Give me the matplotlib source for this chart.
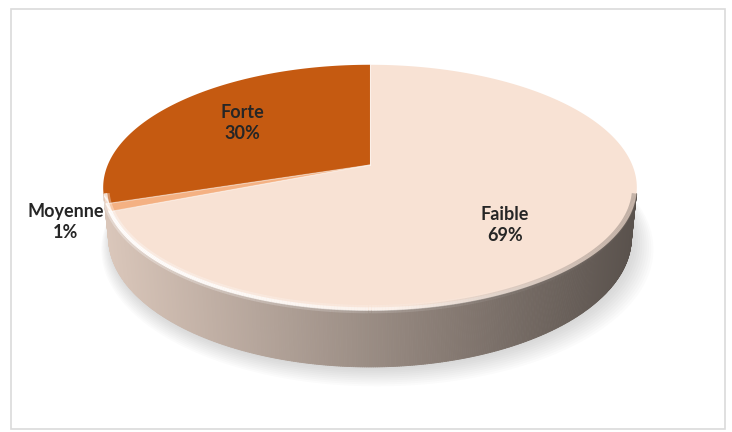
import numpy as np
import matplotlib.pyplot as plt
from matplotlib.patches import Polygon, Rectangle
from matplotlib.collections import PolyCollection, LineCollection
from matplotlib.colors import to_rgb

# data
labels = ['Faible', 'Moyenne', 'Forte']
values = [69, 1, 30]
colors = ['#F8E2D4', '#F4B183', '#C55A11']
label_pos = [(505, 225), (66, 222), (242, 123)]

# 3d view of the pie (pixel units)
CX, VY = 370, 165
ELEV = np.radians(26.9)
DIST = 4.85
FOC = 1272
THICK = 0.2146


def project(theta, r=1.0, y=0.0):
    # theta in degrees, clockwise from 12 o'clock
    t = np.radians(theta)
    u = r * np.sin(t)
    v = -r * np.cos(t)
    s, c = np.sin(ELEV), np.cos(ELEV)
    depth = DIST - (y * s + v * c)
    sx = CX + FOC * u / depth
    sy = VY - FOC * (y * c - v * s) / depth
    return sx, sy


fig = plt.figure(figsize=(7.32, 4.32), dpi=100)
ax = fig.add_axes([0, 0, 1, 1])
ax.set_xlim(0, 732)
ax.set_ylim(432, 0)
ax.axis('off')

ax.add_patch(Rectangle((11, 9), 714, 420, facecolor='white', edgecolor='#DADADA', lw=1.2))

bounds = np.concatenate([[0], np.cumsum(values) / np.sum(values) * 360])

# rim extents for shading
all_t = np.linspace(0, 360, 1441)
rim_x = project(all_t)[0]
xmin, xmax = rim_x.min(), rim_x.max()

# visible part of the side wall
tmin = np.degrees(np.arccos(-1 / (DIST * np.cos(ELEV))))
tmax = 360 - tmin

# soft shadow under the pie
tt = np.linspace(tmin - 20, tmax + 20, 200)
for k in range(10):
    bx, by = project(tt, r=1.0 + 0.006 * k, y=-THICK)
    top_x, top_y = project(tt[::-1], r=0.9)
    pts = np.column_stack([np.concatenate([bx + 2 + k * 0.6, top_x]),
                           np.concatenate([by + 2 + k * 0.8, top_y])])
    ax.add_patch(Polygon(pts, closed=True, facecolor='#808080', edgecolor='none', alpha=0.03))

# side wall strips (only the big slice shows its wall)
polys, fcols = [], []
a0, a1 = tmin, tmax
n = int((a1 - a0) / 0.4) + 1
ts = np.linspace(a0, a1, n)
tx, ty = project(ts)
bx, by = project(ts, y=-THICK)
base = np.array(to_rgb(colors[0]))
for j in range(n - 1):
    polys.append([(tx[j], ty[j]), (tx[j + 1], ty[j + 1]), (bx[j + 1], by[j + 1]), (bx[j], by[j])])
    f = ((tx[j] + tx[j + 1]) / 2 - xmin) / (xmax - xmin)
    shade = 0.88 - 0.52 * f
    fcols.append(np.clip(base * shade, 0, 1))
ax.add_collection(PolyCollection(polys, facecolors=fcols, edgecolors=fcols, linewidths=0.6))

# top face
for i in range(len(values)):
    ts = np.linspace(bounds[i], bounds[i + 1], max(3, int(bounds[i + 1] - bounds[i]) * 2))
    rx, ry = project(ts)
    pts = np.column_stack([np.concatenate([[CX], rx]), np.concatenate([[VY], ry])])
    ax.add_patch(Polygon(pts, closed=True, facecolor=colors[i], edgecolor='none'))

# slice separators
for b in bounds[:-1]:
    ex, ey = project(b)
    ax.plot([CX, ex], [VY, ey], color='white', lw=0.8, alpha=0.5)

# bevel highlight / shade along the front rim
ts = np.linspace(tmin, tmax, 300)
hx, hy = project(ts, r=0.993)
segs = [[(hx[j], hy[j]), (hx[j + 1], hy[j + 1])] for j in range(len(ts) - 1)]
fr = ((hx[:-1] + hx[1:]) / 2 - xmin) / (xmax - xmin)
hl = [(1, 1, 1, 0.95 * max(0, 1 - f) ** 0.9) for f in fr]
ax.add_collection(LineCollection(segs, colors=hl, linewidths=2.6))
glow = [(1, 1, 1, 0.35 * max(0, 1 - f) ** 1.2) for f in fr]
ax.add_collection(LineCollection(segs, colors=glow, linewidths=6))
dk = [tuple(np.clip(base * 0.5, 0, 1)) + (0.45 * max(0, f - 0.55) / 0.45,) for f in fr]
ax.add_collection(LineCollection(segs, colors=dk, linewidths=4))

# labels
for name, val, (lx, ly) in zip(labels, values, label_pos):
    ax.text(lx, ly, f'{name}\n{val}%', ha='center', va='center', fontsize=13,
            fontweight='bold', family='Lato', color='#262626', linespacing=1.35)

fig.savefig('out.png', dpi=100)
